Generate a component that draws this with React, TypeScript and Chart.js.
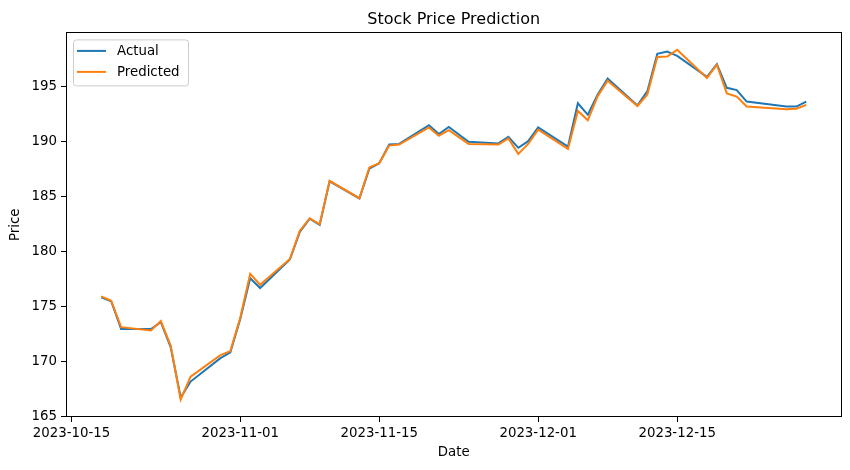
import React, { useEffect, useRef } from 'react';
import { Chart, registerables } from 'chart.js';

Chart.register(...registerables);

// ---- data ----
const dates = [
  '2023-10-18', '2023-10-19', '2023-10-20', '2023-10-23', '2023-10-24', '2023-10-25', '2023-10-26', '2023-10-27',
  '2023-10-30', '2023-10-31', '2023-11-01', '2023-11-02', '2023-11-03', '2023-11-06', '2023-11-07', '2023-11-08',
  '2023-11-09', '2023-11-10', '2023-11-13', '2023-11-14', '2023-11-15', '2023-11-16', '2023-11-17', '2023-11-20',
  '2023-11-21', '2023-11-22', '2023-11-24', '2023-11-27', '2023-11-28', '2023-11-29', '2023-11-30', '2023-12-01',
  '2023-12-04', '2023-12-05', '2023-12-06', '2023-12-07', '2023-12-08', '2023-12-11', '2023-12-12', '2023-12-13',
  '2023-12-14', '2023-12-15', '2023-12-18', '2023-12-19', '2023-12-20', '2023-12-21', '2023-12-22', '2023-12-26',
  '2023-12-27', '2023-12-28',
];

const actual = [
  175.85, 175.5, 172.97, 172.97, 173.6, 171.3, 166.75, 168.2,
  170.33, 170.85, 173.9, 177.6, 176.7, 179.3, 181.8, 183.0,
  182.45, 186.4, 184.85, 187.55, 188.05, 189.75, 189.8, 191.5,
  190.7, 191.35, 190.0, 189.85, 190.45, 189.45, 190.05, 191.3,
  189.55, 193.5, 192.45, 194.3, 195.75, 193.3, 194.6, 198.0,
  198.2, 197.8, 195.9, 197.05, 194.9, 194.7, 193.65, 193.2,
  193.2, 193.65,
];

const predicted = [
  175.95, 175.55, 173.15, 172.85, 173.7, 171.45, 166.57, 168.65,
  170.6, 170.97, 174.0, 178.0, 177.0, 179.35, 181.9, 183.05,
  182.5, 186.45, 184.87, 187.67, 188.06, 189.65, 189.75, 191.3,
  190.55, 191.05, 189.8, 189.75, 190.3, 188.9, 189.8, 191.1,
  189.35, 192.8, 191.95, 194.15, 195.55, 193.25, 194.3, 197.7,
  197.75, 198.35, 195.8, 197.0, 194.4, 194.1, 193.2, 192.95,
  193.0, 193.35,
];

const seriesNames = ['Actual', 'Predicted'];
const seriesColors = ['#1f77b4', '#ff7f0e'];
const xTickDates = ['2023-10-15', '2023-11-01', '2023-11-15', '2023-12-01', '2023-12-15'];
const yTicks = [165, 170, 175, 180, 185, 190, 195];
const titleText = 'Stock Price Prediction';
const xLabel = 'Date';
const yLabel = 'Price';

// ---- helpers ----
const DAY = 86400000;
const BASE = Date.UTC(2023, 9, 15);
const toDay = (s: string) => {
  const [y, m, d] = s.split('-').map(Number);
  return (Date.UTC(y, m - 1, d) - BASE) / DAY;
};

const FONT = '"DejaVu Sans", "Liberation Sans", sans-serif';
const FS = 13.33;

export default function App() {
  const ref = useRef<HTMLCanvasElement | null>(null);

  useEffect(() => {
    if (!ref.current) return;
    const xs = dates.map(toDay);
    const xTickDays = xTickDates.map(toDay);
    const xmin0 = Math.min(...xs), xmax0 = Math.max(...xs);
    const xm = (xmax0 - xmin0) * 0.05;
    const all = [...actual, ...predicted];
    const ymin0 = Math.min(...all), ymax0 = Math.max(...all);
    const ym = (ymax0 - ymin0) * 0.05;

    const overlay = {
      id: 'overlay',
      afterDraw(chart: any) {
        const { ctx, chartArea: a } = chart;
        ctx.save();
        // axes frame
        ctx.strokeStyle = '#000';
        ctx.lineWidth = 1;
        const L = Math.round(a.left) + 0.5, T = Math.round(a.top) + 0.5;
        const R = Math.round(a.right) - 0.5, B = Math.round(a.bottom) - 0.5;
        ctx.strokeRect(L, T, R - L, B - T);
        // title
        ctx.fillStyle = '#000';
        ctx.font = `16px ${FONT}`;
        ctx.textAlign = 'center';
        ctx.textBaseline = 'alphabetic';
        ctx.fillText(titleText, (a.left + a.right) / 2, a.top - 8);
        // legend
        const bx = a.left + 7, by = a.top + 7, bw = 115, bh = 46;
        ctx.fillStyle = 'rgba(255,255,255,0.8)';
        ctx.strokeStyle = '#cccccc';
        ctx.beginPath();
        if ((ctx as any).roundRect) (ctx as any).roundRect(bx + 0.5, by + 0.5, bw, bh, 3);
        else ctx.rect(bx + 0.5, by + 0.5, bw, bh);
        ctx.fill();
        ctx.stroke();
        ctx.font = `${FS}px ${FONT}`;
        ctx.textAlign = 'left';
        ctx.textBaseline = 'middle';
        seriesNames.forEach((name, i) => {
          const yy = by + 11.5 + i * 21;
          ctx.strokeStyle = seriesColors[i];
          ctx.lineWidth = 2;
          ctx.beginPath();
          ctx.moveTo(bx + 4, yy);
          ctx.lineTo(bx + 33, yy);
          ctx.stroke();
          ctx.fillStyle = '#000';
          ctx.fillText(name, bx + 44, yy + 1);
        });
        ctx.restore();
      },
    };

    const chart = new Chart(ref.current, {
      type: 'line',
      data: {
        datasets: [
          {
            label: seriesNames[0],
            data: xs.map((x, i) => ({ x, y: actual[i] })),
            borderColor: seriesColors[0],
            backgroundColor: seriesColors[0],
            borderWidth: 2,
            pointRadius: 0,
            tension: 0,
            order: 1,
          },
          {
            label: seriesNames[1],
            data: xs.map((x, i) => ({ x, y: predicted[i] })),
            borderColor: seriesColors[1],
            backgroundColor: seriesColors[1],
            borderWidth: 2,
            pointRadius: 0,
            tension: 0,
            order: 0,
          },
        ],
      },
      options: {
        animation: false,
        responsive: true,
        maintainAspectRatio: false,
        devicePixelRatio: 1,
        layout: { padding: { left: 0, right: 8.5, top: 32.4, bottom: 0 } },
        plugins: {
          legend: { display: false },
          title: { display: false },
          tooltip: { enabled: false },
        },
        scales: {
          x: {
            type: 'linear',
            min: xmin0 - xm,
            max: xmax0 + xm,
            afterFit: (s: any) => { s.height = 53; },
            afterBuildTicks: (s: any) => { s.ticks = xTickDays.map((v) => ({ value: v })); },
            ticks: {
              autoSkip: false,
              maxRotation: 0,
              padding: 4,
              color: '#000',
              font: { family: FONT, size: FS },
              callback: (v: any) => {
                const i = xTickDays.indexOf(Number(v));
                return i >= 0 ? xTickDates[i] : '';
              },
            },
            grid: { drawOnChartArea: false, drawTicks: true, tickLength: 5, color: '#000' },
            border: { display: false },
            title: {
              display: true,
              text: xLabel,
              color: '#000',
              font: { family: FONT, size: FS },
              padding: { top: 0, bottom: 9 },
            },
          },
          y: {
            type: 'linear',
            min: ymin0 - ym,
            max: ymax0 + ym,
            afterFit: (s: any) => { s.width = 66; },
            afterBuildTicks: (s: any) => { s.ticks = yTicks.map((v) => ({ value: v })); },
            ticks: {
              padding: 4,
              color: '#000',
              font: { family: FONT, size: FS },
              callback: (v: any) => String(v),
            },
            grid: { drawOnChartArea: false, drawTicks: true, tickLength: 5, color: '#000' },
            border: { display: false },
            title: {
              display: true,
              text: yLabel,
              color: '#000',
              font: { family: FONT, size: FS },
              padding: { top: 8, bottom: 0 },
            },
          },
        },
      },
      plugins: [overlay],
    } as any);

    return () => chart.destroy();
  }, []);

  return (
    <div style={{ position: 'absolute', left: 0, top: 0, width: 850, height: 470, background: '#fff' }}>
      <canvas ref={ref} style={{ display: 'block' }} />
    </div>
  );
}
